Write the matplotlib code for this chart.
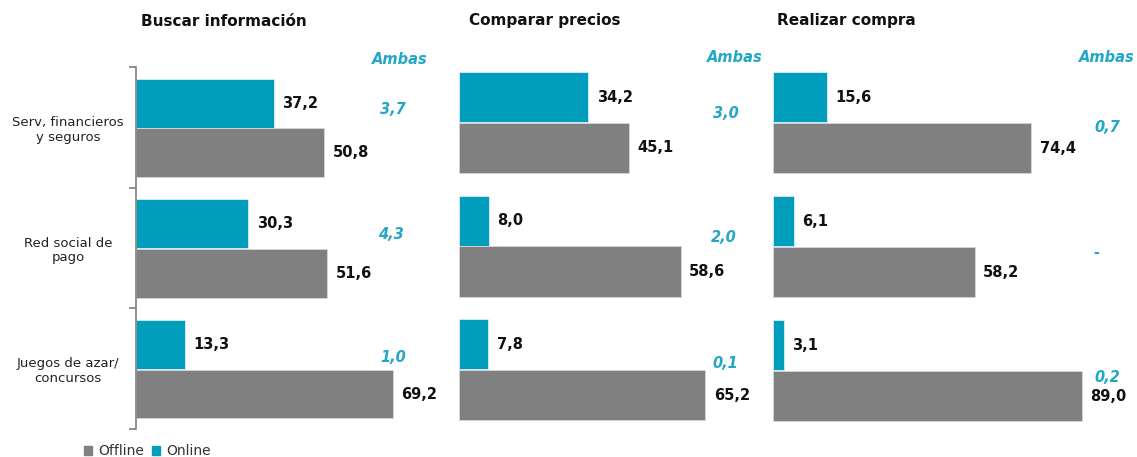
import matplotlib
matplotlib.use("Agg")
import matplotlib.pyplot as plt
from matplotlib.patches import Patch

# ---------------- data ----------------
categories = ["Serv, financieros\ny seguros", "Red social de\npago", "Juegos de azar/\nconcursos"]
panel_titles = ["Buscar información", "Comparar precios", "Realizar compra"]
online_buscar = [37.2, 30.3, 13.3]
offline_buscar = [50.8, 51.6, 69.2]
online_comparar = [34.2, 8.0, 7.8]
offline_comparar = [45.1, 58.6, 65.2]
online_compra = [15.6, 6.1, 3.1]
offline_compra = [74.4, 58.2, 89.0]
ambas_buscar = ["3,7", "4,3", "1,0"]
ambas_comparar = ["3,0", "2,0", "0,1"]
ambas_compra = ["0,7", "-", "0,2"]
ambas_label = "Ambas"
legend_labels = ["Offline", "Online"]

online = [online_buscar, online_comparar, online_compra]
offline = [offline_buscar, offline_comparar, offline_compra]
ambas = [ambas_buscar, ambas_comparar, ambas_compra]

# ---------------- style ----------------
TEAL = "#009dbd"
GREY = "#808080"
AMBAS_C = "#22a7c6"
W, H = 1137, 457
plt.rcParams['font.family'] = ['DejaVu Sans']

fig = plt.figure(figsize=(W / 100, H / 100), dpi=100)

def fx(px):
    return px / W

def fy(py):
    return 1 - py / H

# axes geometry in pixels: left, top, bottom, xmax, px-per-unit
geom = [
    (136, 67, 429, 80, 3.71),
    (459, 60, 431, 80, 3.78),
    (773, 60, 432, 100, 3.47),
]
title_pos = [(224, 22), (545, 20), (846, 20)]
ambas_head = [(400, 60), (735, 58), (1107, 57)]
ambas_vals_pos = [
    [(393, 110), (391, 234), (393, 358)],
    [(726, 114), (724, 238), (725, 363)],
    [(1107, 127), (1097, 252), (1107, 377)],
]

y = list(range(len(categories)))
bh = 0.405
for p in range(3):
    left, top, bottom, xmax, scale = geom[p]
    width = xmax * scale
    ax = fig.add_axes([fx(left), fy(bottom), width / W, (bottom - top) / H])
    yo = [v - 0.2 for v in y]
    yf = [v + 0.21 for v in y]
    bo = ax.barh(yo, online[p], height=bh, color=TEAL, edgecolor="#d9eef3", linewidth=0.6)
    bf = ax.barh(yf, offline[p], height=bh, color=GREY, edgecolor="#d6d6d6", linewidth=0.6)
    for bars, vals in ((bo, online[p]), (bf, offline[p])):
        for b, v in zip(bars, vals):
            ax.annotate(f"{v:.1f}".replace(".", ","),
                        xy=(b.get_width(), b.get_y() + b.get_height() / 2),
                        xytext=(6, 0), textcoords="offset points",
                        ha="left", va="center", fontsize=10.5, fontweight="bold",
                        color="#111111")
    ax.set_xlim(0, xmax)
    ax.set_ylim(2.5, -0.5)
    ax.set_xticks([])
    for s in ("top", "right", "bottom"):
        ax.spines[s].set_visible(False)
    if p == 0:
        ax.spines["left"].set_color("#7f7f7f")
        ax.spines["left"].set_linewidth(1.2)
        ax.set_yticks([-0.5, 0.5, 1.5, 2.5])
        ax.set_yticklabels([])
        ax.set_yticks(y, minor=True)
        ax.set_yticklabels(categories, minor=True, fontsize=9.5, color="#222222",
                           ha="center", multialignment="center")
        ax.tick_params(axis="y", which="major", length=5, width=1.2, color="#7f7f7f")
        ax.tick_params(axis="y", which="minor", length=0, pad=49)
    else:
        ax.spines["left"].set_visible(False)
        ax.set_yticks([])
    tx, ty = title_pos[p]
    fig.text(fx(tx), fy(ty), panel_titles[p], ha="center", va="center",
             fontsize=11, fontweight="bold", color="#111111")
    ax_, ay_ = ambas_head[p]
    fig.text(fx(ax_), fy(ay_), ambas_label, ha="center", va="center",
             fontsize=10.5, fontstyle="italic", fontweight="bold", color=AMBAS_C)
    for (vx, vy), t in zip(ambas_vals_pos[p], ambas[p]):
        fig.text(fx(vx), fy(vy), t, ha="center", va="center",
                 fontsize=10.5, fontstyle="italic", fontweight="bold", color=AMBAS_C)

handles = [Patch(color=GREY), Patch(color=TEAL)]
fig.legend(handles, legend_labels, loc="center left",
           bbox_to_anchor=(fx(84), fy(451)), ncol=2, frameon=False,
           fontsize=10, handlelength=0.6, handleheight=0.6, handletextpad=0.4,
           columnspacing=0.6, labelcolor="#333333", borderaxespad=0, borderpad=0)

fig.savefig("out.png", dpi=100)
